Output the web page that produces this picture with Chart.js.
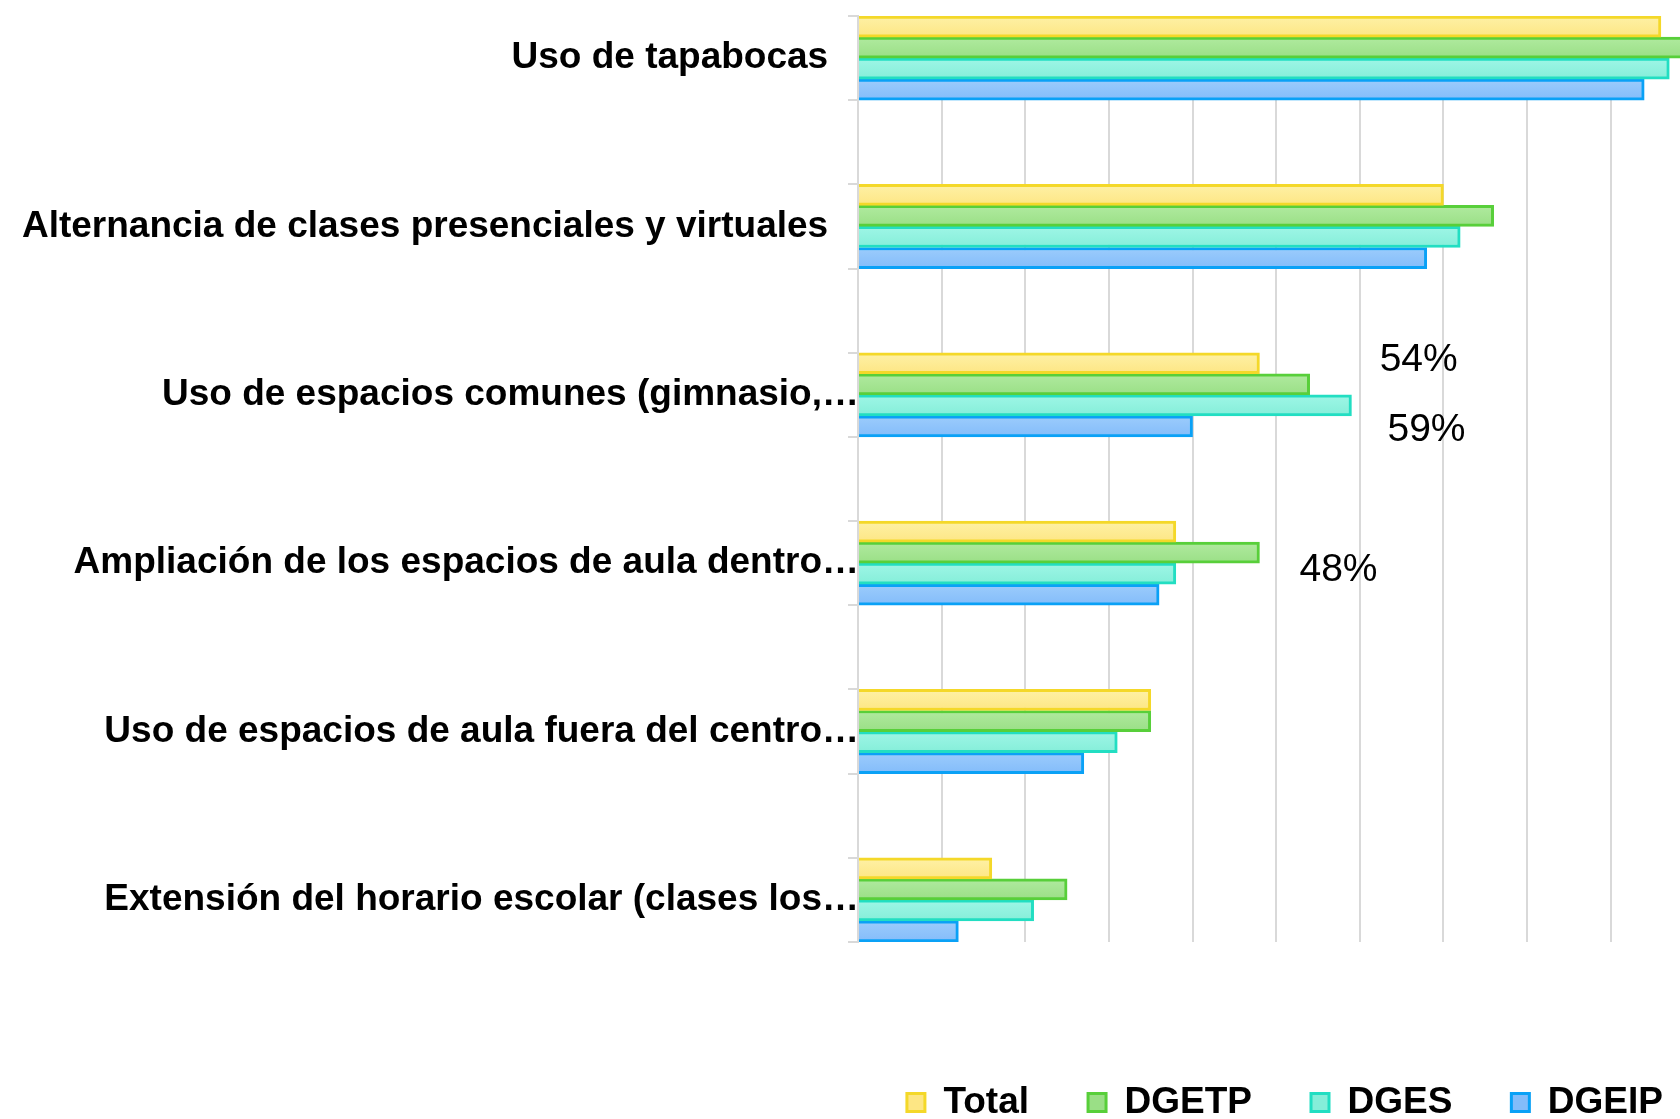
<!DOCTYPE html>
<html>
<head>
<meta charset="utf-8">
<script src="https://cdn.jsdelivr.net/npm/chart.js@4.4.1/dist/chart.umd.min.js"></script>
<style>
	html, body { margin: 0; padding: 0; background: #fff; overflow: hidden; }
	#wrap { position: absolute; left: 0; top: 0; width: 1722px; height: 1131px; }
</style>
</head>
<body>
<div id="wrap"><canvas id="chart"></canvas></div>
<script>
'use strict'

const categories = [
	'Uso de tapabocas',
	'Alternancia de clases presenciales y virtuales',
	'Uso de espacios comunes (gimnasio,…',
	'Ampliación de los espacios de aula dentro…',
	'Uso de espacios de aula fuera del centro…',
	'Extensión del horario escolar (clases los…',
];
const seriesNames = ['Total', 'DGETP', 'DGES', 'DGEIP'];
const total = [96, 70, 48, 38, 35, 16];
const dgetp = [99, 76, 54, 48, 35, 25];
const dges = [97, 72, 59, 38, 31, 21];
const dgeip = [94, 68, 40, 36, 27, 12];
// value labels kept on the original: [category, series]
const shownLabels = [[2, 1], [2, 2], [3, 1]];

const labelOffsets = [[109, -24], [75, 25], [79, 18]];
const fills = ['#FDEB8F', '#A4E592', '#8FF2DF', '#8EC3FB'];
const fillsTop = ['#FEF1A6', '#B0EA9F', '#9EF6E6', '#9CCCFC'];
const fillsBottom = ['#FDE684', '#9ADF86', '#85EED9', '#83BCFA'];
const borders = ['#F4D829', '#58CF3A', '#22DEC2', '#0AA1F6'];
const fontFamily = '"Liberation Sans", Arial, sans-serif';

// an empty band sits between every two categories
function spread(values, blank) {
	let out = [];
	values.forEach((v, i) => {
		if (i > 0) out.push(blank);
		out.push(v);
	});
	return out;
}

function barFill(context) {
	const i = context.datasetIndex;
	const y = context.chart.scales.y;
	if (context.dataIndex === undefined || !y) return fills[i];
	const band = y.getPixelForValue(1) - y.getPixelForValue(0);
	const top = y.getPixelForValue(context.dataIndex) - band / 2 + i * band / 4;
	if (!isFinite(top)) return fills[i];
	const g = context.chart.ctx.createLinearGradient(0, top, 0, top + band / 4);
	g.addColorStop(0, fillsTop[i]);
	g.addColorStop(1, fillsBottom[i]);
	return g;
}

const percentLabels = {
	id: 'percentLabels',
	afterDatasetsDraw(chart) {
		const ctx = chart.ctx;
		ctx.save();
		ctx.font = '39px ' + fontFamily;
		ctx.fillStyle = '#000';
		ctx.textAlign = 'center';
		ctx.textBaseline = 'middle';
		shownLabels.forEach(([cat, s], k) => {
			const bar = chart.getDatasetMeta(s).data[cat * 2];
			const value = chart.data.datasets[s].data[cat * 2];
			ctx.fillText(value + '%', bar.x + labelOffsets[k][0], bar.y + labelOffsets[k][1]);
		});
		ctx.restore();
	}
};

const gridColor = '#D9D9D9';

new Chart(document.getElementById('chart'), {
	type: 'bar',
	data: {
		labels: spread(categories, ''),
		datasets: [total, dgetp, dges, dgeip].map((values, i) => ({
			label: seriesNames[i],
			data: spread(values, null),
			backgroundColor: barFill,
			borderColor: borders[i],
			borderWidth: 3,
			borderSkipped: 'start',
			categoryPercentage: 1,
			barPercentage: 1,
		})),
	},
	options: {
		indexAxis: 'y',
		responsive: true,
		maintainAspectRatio: false,
		animation: false,
		layout: {
			padding: { top: 16, left: 0, right: 0, bottom: 0 },
		},
		plugins: {
			legend: {
				position: 'bottom',
				align: 'end',
				labels: {
					boxWidth: 18,
					boxHeight: 18,
					padding: 59,
					color: '#000',
					font: { family: fontFamily, size: 37, weight: 'bold' },
				},
			},
			tooltip: { enabled: false },
		},
		scales: {
			x: {
				min: 0,
				max: 103.3,
				ticks: { display: false, stepSize: 10 },
				grid: { color: gridColor, lineWidth: 2, drawTicks: false },
				border: { display: false },
				afterFit: function (scale) { scale.height = 83; },
			},
			y: {
				ticks: {
					autoSkip: false,
					padding: -11,
					color: '#000',
					font: { family: fontFamily, size: 37, weight: 'bold' },
					callback: function (value) {
						const label = this.getLabelForValue(value);
						if (!label || label.endsWith('…')) return label;
						return label + '   ';
					},
				},
				grid: { color: gridColor, lineWidth: 2, drawOnChartArea: false, tickLength: 10 },
				border: { color: gridColor, width: 2, z: 1 },
				afterFit: function (scale) { scale.width = 858; },
			},
		},
	},
	plugins: [percentLabels],
});
</script>
</body>
</html>
